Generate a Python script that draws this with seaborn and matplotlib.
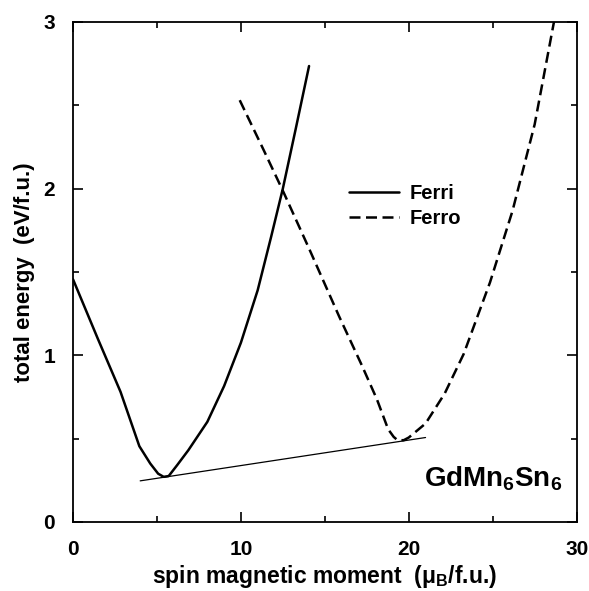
import matplotlib
matplotlib.use("Agg")
import matplotlib.pyplot as plt
import seaborn as sns
import pandas as pd

# Data
ferri_x = [0.0, 1.48, 2.83, 3.95, 4.6, 5.07, 5.4, 5.7, 6.2, 6.87, 8.0, 9.0, 10.0, 11.0, 11.8, 12.5, 13.27, 14.06]
ferri_y = [1.455, 1.098, 0.78, 0.454, 0.35, 0.289, 0.27, 0.275, 0.34, 0.43, 0.60, 0.815, 1.075, 1.39, 1.71, 2.0, 2.36, 2.735]
ferro_x = [9.93, 11.36, 12.53, 14.06, 15.85, 17.2, 18.1, 18.77, 19.1, 19.33, 19.7, 20.0, 21.0, 22.14, 23.27, 24.84, 26.18, 27.5, 28.65]
ferro_y = [2.53, 2.23, 1.98, 1.64, 1.233, 0.94, 0.736, 0.556, 0.51, 0.49, 0.49, 0.506, 0.59, 0.77, 1.007, 1.437, 1.866, 2.385, 3.0]
tangent_x = [4.0, 21.0]
tangent_y = [0.246, 0.506]
series_labels = ["Ferri", "Ferro"]
x_ticks = [0, 10, 20, 30]
y_ticks = [0, 1, 2, 3]

sns.set_theme(style="ticks")
plt.rcParams["font.family"] = ["Liberation Sans", "DejaVu Sans"]
plt.rcParams["font.weight"] = "bold"
plt.rcParams["mathtext.fontset"] = "custom"
plt.rcParams["mathtext.rm"] = "Liberation Sans:bold"
plt.rcParams["mathtext.bf"] = "Liberation Sans:bold"
plt.rcParams["mathtext.it"] = "Liberation Sans:bold"
plt.rcParams["text.color"] = "black"
plt.rcParams["axes.labelcolor"] = "black"
plt.rcParams["xtick.color"] = "black"
plt.rcParams["ytick.color"] = "black"
plt.rcParams["axes.edgecolor"] = "black"

fig = plt.figure(figsize=(5.89, 5.91), dpi=100)
ax = fig.add_axes([0.124, 0.117, 0.855, 0.846])

df_ferri = pd.DataFrame({"x": ferri_x, "y": ferri_y})
df_ferro = pd.DataFrame({"x": ferro_x, "y": ferro_y})
df_tan = pd.DataFrame({"x": tangent_x, "y": tangent_y})

sns.lineplot(data=df_ferri, x="x", y="y", sort=False, ax=ax, color="black",
             linewidth=1.8, label=series_labels[0])
sns.lineplot(data=df_ferro, x="x", y="y", sort=False, ax=ax, color="black",
             linewidth=1.8, label=series_labels[1])
ax.lines[-1].set_dashes([4.4, 2.2])
sns.lineplot(data=df_tan, x="x", y="y", sort=False, ax=ax, color="black",
             linewidth=0.9, legend=False)

ax.set_xlim(0, 30)
ax.set_ylim(0, 3)
ax.set_xticks(x_ticks)
ax.set_yticks(y_ticks)
ax.set_xticks([5, 15, 25], minor=True)
ax.set_yticks([0.5, 1.5, 2.5], minor=True)
ax.tick_params(which="both", direction="in", top=True, right=True, width=1.2,
               color="black", labelcolor="black")
ax.tick_params(which="major", length=7, labelsize=15, pad=13)
ax.tick_params(which="minor", length=4)
for lab in ax.get_xticklabels() + ax.get_yticklabels():
    lab.set_fontweight("bold")
for sp in ax.spines.values():
    sp.set_linewidth(1.3)
    sp.set_color("black")

ax.set_xlabel("spin magnetic moment  (μ$_\\mathbf{B}$/f.u.)", fontsize=16.5,
              fontweight="bold", labelpad=3, color="black")
ax.set_ylabel("total energy  (eV/f.u.)", fontsize=16, fontweight="bold",
              labelpad=6, color="black")

leg = ax.legend(loc="upper left", bbox_to_anchor=(0.512, 0.712), frameon=False,
                fontsize=14.5, handlelength=2.5, handletextpad=0.5, labelspacing=0.3)
for t in leg.get_texts():
    t.set_fontweight("bold")
    t.set_color("black")
leg.get_lines()[1].set_dashes([4.4, 2.2])

ax.text(0.971, 0.07, "GdMn$_\\mathbf{6}$Sn$_\\mathbf{6}$", transform=ax.transAxes,
        ha="right", va="baseline", fontsize=20, fontweight="bold", color="black")

fig.savefig("out.png", dpi=100, facecolor="white")
